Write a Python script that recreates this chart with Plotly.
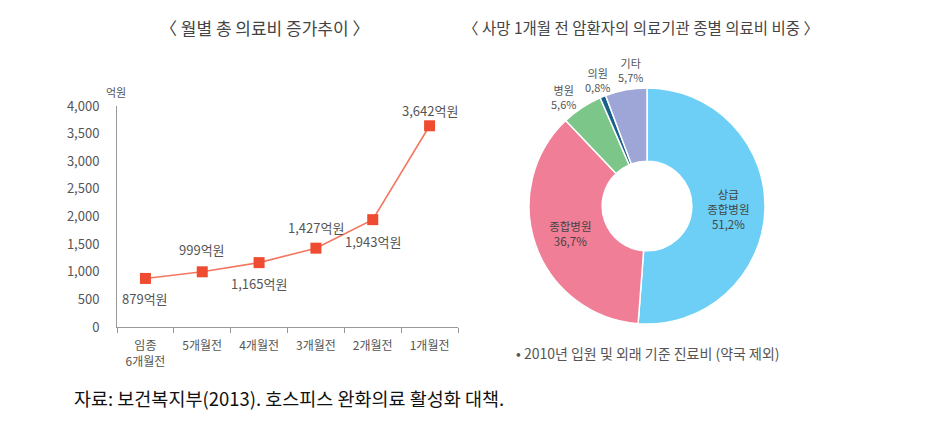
import plotly.graph_objects as go

# ---- data ----
months = ["임종<br>6개월전", "5개월전", "4개월전", "3개월전", "2개월전", "1개월전"]
costs = [879, 999, 1165, 1427, 1943, 3642]

inst_labels = ["상급<br>종합병원", "종합병원", "병원", "의원", "기타"]
inst_share = [51.2, 36.7, 5.6, 0.8, 5.7]

# ---- styling ----
label_shift = [-20, 22, -21, 21, -22, 15]   # vertical offset (px) of each value label
inst_colors = ["#6DCFF6", "#F07E97", "#7CC68A", "#1B5F8C", "#9DA6D6"]
inst_textpos = ["inside", "inside", "none", "none", "none"]

# page body has an 8px margin; figure is sized to fit inside the window
OFF = 8
W, H = 938 - 2 * OFF, 421 - 2 * OFF
FONT = "Noto Sans CJK KR"
GRAY = "#555555"

def px(x):
    return (x - OFF) / W

def py(y):
    return 1 - (y - OFF) / H

def fmt_pct(v):
    return str(v).replace(".", ",") + "%"

cost_text = [f"{v:,}억원" for v in costs]
share_text = [f"{lab}<br>{fmt_pct(v)}" for lab, v in zip(inst_labels, inst_share)]

fig = go.Figure()

fig.add_trace(go.Scatter(
    x=months, y=costs,
    mode="lines+markers",
    line=dict(color="#F37760", width=1.6),
    marker=dict(symbol="square", size=11, color="#EE4B30"),
    cliponaxis=False,
    showlegend=False,
))

fig.add_trace(go.Pie(
    values=inst_share, labels=inst_labels,
    text=share_text, texttemplate="%{text}",
    textposition=inst_textpos,
    insidetextorientation="horizontal",
    textfont=dict(family=FONT, size=11.5, color="#444444"),
    marker=dict(colors=inst_colors, line=dict(color="white", width=1.5)),
    hole=0.38, sort=False, direction="clockwise", rotation=0,
    showlegend=False, automargin=False,
    domain=dict(x=[px(529), px(765)], y=[py(324), py(88)]),
))

annotations = []
# value labels on the line chart, anchored to the data points
for m, v, t, s in zip(months, costs, cost_text, label_shift):
    annotations.append(dict(text=t, x=m, y=v, xref="x", yref="y", yshift=s,
                            showarrow=False, xanchor="center", yanchor="middle",
                            font=dict(family=FONT, size=13, color=GRAY)))

paper_notes = [
    dict(text="〈 월별 총 의료비 증가추이 〉", x=px(264), y=py(27),
         font=dict(family=FONT, size=17, color="#444444")),
    dict(text="〈 사망 1개월 전 암환자의 의료기관 종별 의료비 비중 〉", x=px(641), y=py(27),
         font=dict(family=FONT, size=15.5, color="#444444")),
    dict(text="억원", x=px(116), y=py(92),
         font=dict(family=FONT, size=11, color=GRAY)),
    dict(text="• 2010년 입원 및 외래 기준 진료비 (약국 제외)", x=px(648), y=py(353),
         font=dict(family=FONT, size=14, color=GRAY)),
    dict(text="자료: 보건복지부(2013). 호스피스 완화의료 활성화 대책.", x=px(72), y=py(413),
         xanchor="left", yanchor="bottom", font=dict(family=FONT, size=18.5, color="#111111")),
]
# small-slice labels placed outside the ring, without leader lines
small_label_xy = {2: (563, 97), 3: (597, 80), 4: (630, 70)}
for i, (lx, ly) in small_label_xy.items():
    paper_notes.append(dict(text=f"{inst_labels[i]}<br>{fmt_pct(inst_share[i])}",
                            x=px(lx), y=py(ly),
                            font=dict(family=FONT, size=11, color=GRAY)))
for a in paper_notes:
    a.update(xref="paper", yref="paper", showarrow=False)
    a.setdefault("xanchor", "center")
    a.setdefault("yanchor", "middle")
annotations += paper_notes

fig.update_layout(
    width=W, height=H,
    margin=dict(l=0, r=0, t=0, b=0, pad=0, autoexpand=False),
    paper_bgcolor="white", plot_bgcolor="white",
    font=dict(family=FONT, color=GRAY, size=12),
    xaxis=dict(
        domain=[px(117), px(458)],
        type="category", automargin=False,
        showline=True, linecolor="#999999", linewidth=1,
        ticks="outside", tickson="boundaries", ticklen=5, tickcolor="#999999",
        ticklabelstandoff=8,
        showgrid=False, zeroline=False,
        tickfont=dict(family=FONT, size=12, color=GRAY),
        range=[-0.5, 5.5],
    ),
    yaxis=dict(
        domain=[py(327), py(106)], automargin=False,
        range=[0, 4000], dtick=500, tickformat=",d",
        showline=True, linecolor="#999999", linewidth=1,
        ticks="", ticklabelstandoff=14,
        showgrid=False, zeroline=False,
        tickfont=dict(family=FONT, size=13, color=GRAY),
    ),
    annotations=annotations,
)

fig.write_html("out.html")
